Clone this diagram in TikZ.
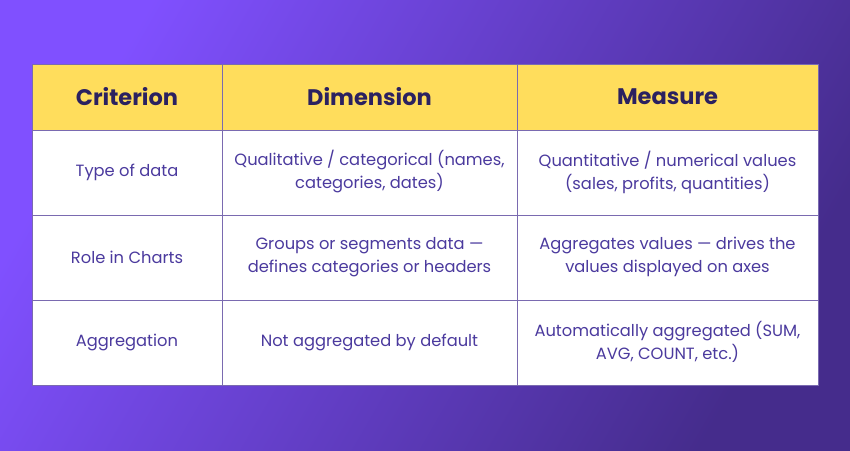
\documentclass[tikz,border=0pt]{standalone}
\usepackage{fontspec}
\setmainfont{Poppins}
\usetikzlibrary{positioning}
\definecolor{bgA}{HTML}{8050FF}
\definecolor{bgB}{HTML}{452C8C}
\definecolor{headYellow}{HTML}{FFDD5C}
\definecolor{headInk}{HTML}{2B2160}
\definecolor{cellInk}{HTML}{4B3A9E}
\definecolor{gridLine}{HTML}{7A6AB0}
\tikzset{
  head/.style={text=headInk,font=\fontsize{22.5}{26}\selectfont\bfseries},
  cell/.style={text=cellInk,font=\fontsize{16.3}{23}\selectfont,align=center}
}
\begin{document}
\begin{tikzpicture}[x=1pt,y=-1pt]

\useasboundingbox (0,0) rectangle (850,450);
\shade[top color=bgA,bottom color=bgB,shading angle=60] (0,0) rectangle (850,450);

% table
\fill[headYellow] (32,64) rectangle (818,130);
\fill[white] (32,130) rectangle (818,385);
\draw[gridLine,line width=1pt] (32,64) rectangle (818,385);
\foreach \y in {130,215,300} \draw[gridLine,line width=1pt] (32,\y) -- (818,\y);
\foreach \x in {222,517} \draw[gridLine,line width=1pt] (\x,64) -- (\x,385);

\node[head] (h1) at (127,97) {Criterion};
\node[head] (h2) at (369.5,97) {Dimension};
\node[head] (h3) at (667.5,97) {Measure};

\node[cell] (r1a) at (127,172) {Type of data};
\node[cell] (r1b) at (369.5,172) {Qualitative / categorical (names,\\categories, dates)};
\node[cell] (r1c) at (667.5,172) {Quantitative / numerical values\\(sales, profits, quantities)};

\node[cell] (r2a) at (127,257) {Role in Charts};
\node[cell] (r2b) at (369.5,257) {Groups or segments data —\\defines categories or headers};
\node[cell] (r2c) at (667.5,257) {Aggregates values — drives the\\values displayed on axes};

\node[cell] (r3a) at (127,342) {Aggregation};
\node[cell] (r3b) at (369.5,342) {Not aggregated by default};
\node[cell] (r3c) at (667.5,342) {Automatically aggregated (SUM,\\AVG, COUNT, etc.)};

\end{tikzpicture}
\end{document}
